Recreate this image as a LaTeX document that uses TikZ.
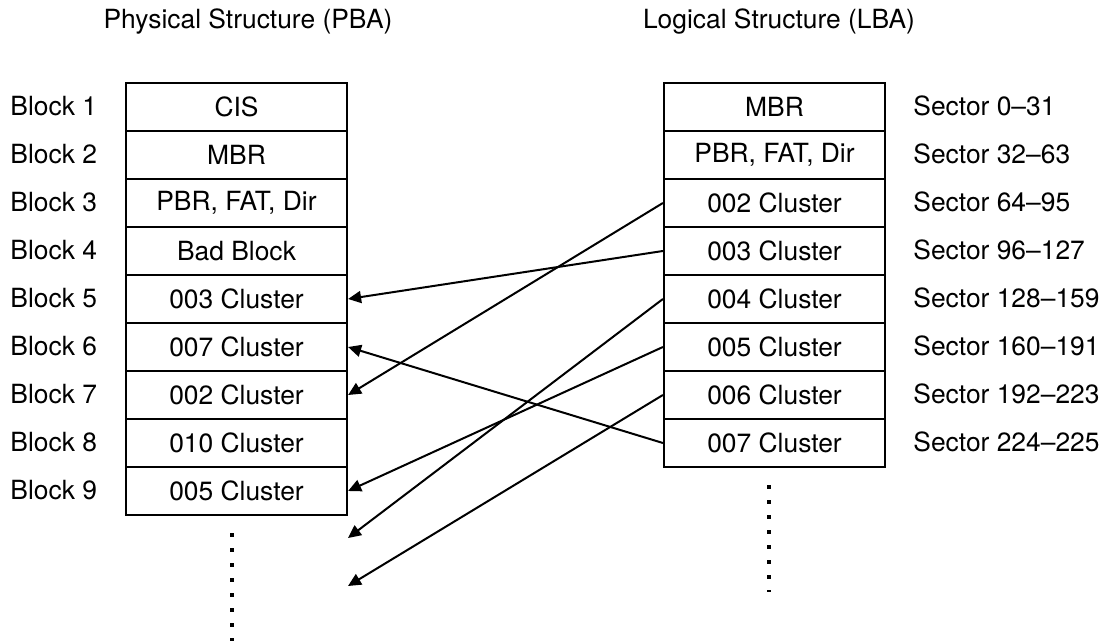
\documentclass[tikz,border=0pt]{standalone}
\usepackage{fontspec}
\setmainfont{TeX Gyre Heros}
\usetikzlibrary{arrows.meta}

\tikzset{
  cell/.style={draw, line width=1.1pt, minimum width=110.5pt, minimum height=24pt, inner sep=0pt},
  lbl/.style={anchor=west, inner sep=0pt},
  map/.style={-{Triangle[length=6.5pt,width=6pt]}, line width=1pt},
  more/.style={line width=1.6pt, dash pattern=on 2pt off 5.5pt},
}

\begin{document}
\begin{tikzpicture}[x=0.5pt, y=-0.5pt, font=\fontsize{13.2}{16}\selectfont]
    \useasboundingbox (0,0) rectangle (1107,641);

    % Titles
    \node (PBA) at (248,22) {Physical Structure (PBA)};
    \node (LBA) at (779,22) {Logical Structure (LBA)};

    % Physical blocks
    \node[cell] (P1) at (236.5,107) {CIS};
    \node[cell] (P2) at (236.5,155) {MBR};
    \node[cell] (P3) at (236.5,203) {PBR, FAT, Dir};
    \node[cell] (P4) at (236.5,251) {Bad Block};
    \node[cell] (P5) at (236.5,299) {003 Cluster};
    \node[cell] (P6) at (236.5,347) {007 Cluster};
    \node[cell] (P7) at (236.5,395) {002 Cluster};
    \node[cell] (P8) at (236.5,443) {010 Cluster};
    \node[cell] (P9) at (236.5,491) {005 Cluster};

    % Block numbers
    \node[lbl] (B1) at (10,106) {Block 1};
    \node[lbl] (B2) at (10,154) {Block 2};
    \node[lbl] (B3) at (10,202) {Block 3};
    \node[lbl] (B4) at (10,250) {Block 4};
    \node[lbl] (B5) at (10,298) {Block 5};
    \node[lbl] (B6) at (10,346) {Block 6};
    \node[lbl] (B7) at (10,394) {Block 7};
    \node[lbl] (B8) at (10,442) {Block 8};
    \node[lbl] (B9) at (10,490) {Block 9};

    % Logical sectors
    \node[cell] (L1) at (774.5,107) {MBR};
    \node[cell] (L2) at (774.5,155) {PBR, FAT, Dir};
    \node[cell] (L3) at (774.5,203) {002 Cluster};
    \node[cell] (L4) at (774.5,251) {003 Cluster};
    \node[cell] (L5) at (774.5,299) {004 Cluster};
    \node[cell] (L6) at (774.5,347) {005 Cluster};
    \node[cell] (L7) at (774.5,395) {006 Cluster};
    \node[cell] (L8) at (774.5,443) {007 Cluster};

    % Sector ranges
    \node[lbl] (S1) at (913,106) {Sector 0--31};
    \node[lbl] (S2) at (913,154) {Sector 32--63};
    \node[lbl] (S3) at (913,202) {Sector 64--95};
    \node[lbl] (S4) at (913,250) {Sector 96--127};
    \node[lbl] (S5) at (913,298) {Sector 128--159};
    \node[lbl] (S6) at (913,346) {Sector 160--191};
    \node[lbl] (S7) at (913,394) {Sector 192--223};
    \node[lbl] (S8) at (913,442) {Sector 224--225};

    % Free ends below the physical blocks
    \coordinate (free1) at (348,538);
    \coordinate (free2) at (348,586);

    % Mapping
    \draw[map] (L3.west) -- (P7.east);
    \draw[map] (L4.west) -- (P5.east);
    \draw[map] (L5.west) -- (free1);
    \draw[map] (L6.west) -- (P9.east);
    \draw[map] (L7.west) -- (free2);
    \draw[map] (L8.west) -- (P6.east);

    % Continuation dots
    \draw[more] (232,533) -- (232,641);
    \draw[more] (769,485) -- (769,592);
\end{tikzpicture}
\end{document}
